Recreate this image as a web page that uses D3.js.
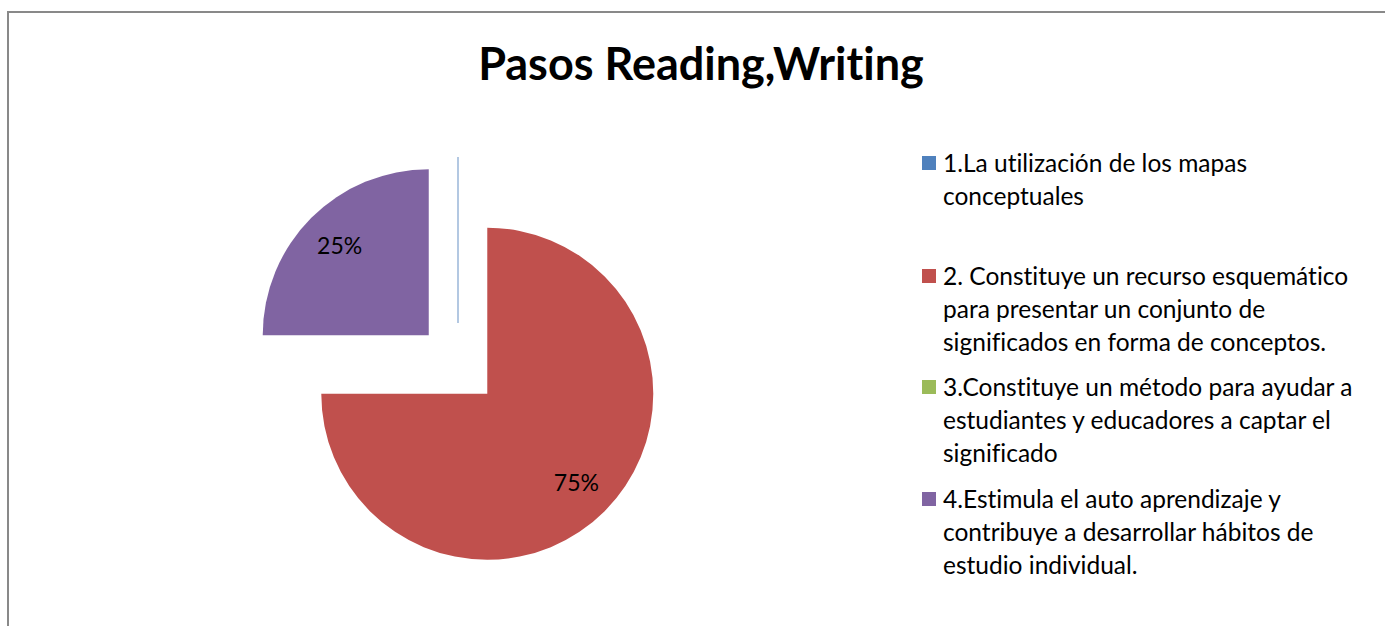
<!DOCTYPE html>
<html>
    <head>
        <meta charset="utf-8">
        <script src="https://d3js.org/d3.v7.min.js"></script>
        <style>
            body {
                margin: 0;
                overflow: hidden;
                background: #fff;
            }
            text {
                font-variant-ligatures: none;
            }
        </style>
    </head>
    <body>
        <script>
            const title = 'Pasos Reading,Writing';
            const categories = [
                '1.La utilización de los mapas conceptuales',
                '2. Constituye un recurso esquemático para presentar un conjunto de significados en forma de conceptos.',
                '3.Constituye un método para ayudar a estudiantes y educadores a captar el significado',
                '4.Estimula el auto aprendizaje y contribuye a desarrollar hábitos de estudio individual.'
            ];
            const values = [0, 75, 0, 25];
            const colors = ['#4F81BD', '#C0504D', '#9BBB59', '#8064A2'];

            const width = 1385;
            const height = 626;
            const font = 'Lato, "Open Sans", sans-serif';

            const svg = d3.select('body').append('svg').attr('width', width).attr('height', height);

            // chart frame (only top and left edges are in view)
            svg.append('rect')
                .attr('x', 8).attr('y', 12)
                .attr('width', width + 20).attr('height', height + 20)
                .attr('fill', '#fff')
                .attr('stroke', '#898989')
                .attr('stroke-width', 2);

            svg.append('text')
                .attr('x', 701).attr('y', 80)
                .attr('text-anchor', 'middle')
                .style('font-family', font)
                .style('font-weight', 'bold')
                .style('font-size', '45px')
                .text(title);

            // exploded pie
            const radius = 166;
            const explode = 41.4;
            const labelR = 126;
            const cx = 458, cy = 364.5;
            const total = d3.sum(values);
            const pie = d3.pie().sort(null).value((d) => d)(values);
            const arc = d3.arc().innerRadius(0).outerRadius(radius);
            const pieG = svg.append('g').attr('transform', `translate(${cx},${cy})`);

            const slice = pieG.selectAll('g.slice')
                .data(pie)
                .enter()
                .append('g')
                .attr('class', 'slice')
                .attr('transform', (d) => {
                    const a = (d.startAngle + d.endAngle) / 2;
                    return `translate(${Math.sin(a) * explode},${-Math.cos(a) * explode})`;
                });

            slice.append('path')
                .attr('d', arc)
                .attr('fill', (d, i) => colors[i])
                .attr('stroke', (d, i) => (i === 0 ? '#9bb7d9' : 'none'))
                .attr('stroke-width', 1.5);

            slice.filter((d) => d.value > 0)
                .append('text')
                .attr('transform', (d) => {
                    const a = (d.startAngle + d.endAngle) / 2;
                    return `translate(${Math.sin(a) * labelR},${-Math.cos(a) * labelR})`;
                })
                .attr('text-anchor', 'middle')
                .attr('dy', '0.35em')
                .style('font-family', font)
                .style('font-size', '23px')
                .text((d) => `${Math.round((d.value / total) * 100)}%`);

            // legend
            const legendX = 922;
            const itemTops = [163, 276, 387, 499];
            const lineH = 33;
            const maxW = 428;
            const legend = svg.append('g');

            categories.forEach((label, i) => {
                const g = legend.append('g');
                g.append('rect')
                    .attr('x', legendX).attr('y', itemTops[i] - 7)
                    .attr('width', 14).attr('height', 14)
                    .attr('fill', colors[i]);
                const t = g.append('text')
                    .attr('x', legendX + 21).attr('y', itemTops[i])
                    .style('font-family', font)
                    .style('font-size', '24.5px');
                const words = label.split(' ');
                let line = [];
                let tspan = t.append('tspan').attr('x', legendX + 21).attr('dy', '0.35em');
                words.forEach((w) => {
                    line.push(w);
                    tspan.text(line.join(' '));
                    if (tspan.node().getComputedTextLength() > maxW && line.length > 1) {
                        line.pop();
                        tspan.text(line.join(' '));
                        line = [w];
                        tspan = t.append('tspan').attr('x', legendX + 21).attr('dy', lineH).text(w);
                    }
                });
            });
        </script>
    </body>
</html>
